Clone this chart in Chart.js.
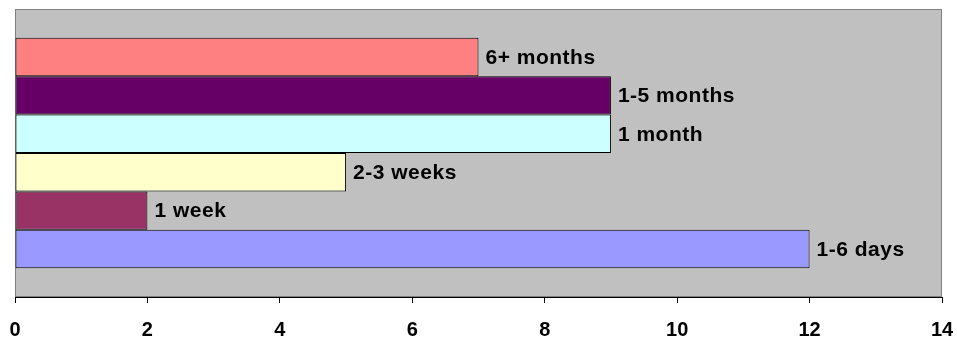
<!DOCTYPE html>
<html>
<head>
<meta charset="utf-8">
<script src="https://cdn.jsdelivr.net/npm/chart.js@4.4.0/dist/chart.umd.min.js"></script>
<style>
  html, body { margin: 0; padding: 0; background: #fff; }
  canvas { display: block; }
</style>
</head>
<body>
<canvas id="durationChart" width="957" height="341"></canvas>
<script>
// duration buckets, top to bottom
const categories = ['6+ months', '1-5 months', '1 month', '2-3 weeks', '1 week', '1-6 days'];
const counts = [7, 9, 9, 5, 2, 12];
const barColors = ['#FF8080', '#660066', '#CCFFFF', '#FFFFCC', '#993366', '#9999FF'];
const xTicks = [0, 2, 4, 6, 8, 10, 12, 14];

const FONT = '"Liberation Sans", Arial, sans-serif';

// grey plot area like the old Excel default
const plotBackground = {
    id: 'plotBackground',
    beforeDraw(chart) {
        const { ctx, chartArea: a } = chart;
        ctx.save();
        ctx.fillStyle = '#C0C0C0';
        ctx.fillRect(a.left, a.top, a.right - a.left, a.bottom - a.top);
        ctx.strokeStyle = '#808080';
        ctx.lineWidth = 1;
        ctx.strokeRect(a.left + 0.5, a.top + 0.5, a.right - a.left - 1, a.bottom - a.top - 1);
        ctx.restore();
    }
};

// series name written just past the end of each bar
const barLabels = {
    id: 'barLabels',
    afterDatasetsDraw(chart) {
        const ctx = chart.ctx;
        ctx.save();
        ctx.font = 'bold 21px ' + FONT;
        ctx.letterSpacing = '0.5px';
        ctx.fillStyle = '#000';
        ctx.textBaseline = 'middle';
        ctx.textAlign = 'left';
        chart.data.datasets.forEach((ds, i) => {
            const bar = chart.getDatasetMeta(i).data[0];
            if (bar) ctx.fillText(ds.label, bar.x + 7, bar.y + 1);
        });
        ctx.restore();
    }
};

const datasets = categories.map((name, i) => ({
    label: name,
    data: [counts[i]],
    backgroundColor: barColors[i],
    borderColor: '#000',
    borderWidth: 1,
    borderSkipped: false
}));

new Chart(document.getElementById('durationChart'), {
    type: 'bar',
    data: { labels: [''], datasets: datasets },
    options: {
        indexAxis: 'y',
        responsive: false,
        animation: false,
        devicePixelRatio: 1,
        categoryPercentage: 0.8,
        barPercentage: 1,
        layout: { padding: { left: 15, right: 15, top: 9, bottom: 1 } },
        plugins: { legend: { display: false }, tooltip: { enabled: false } },
        scales: {
            x: {
                min: 0,
                max: 14,
                afterBuildTicks(scale) { scale.ticks = xTicks.map(v => ({ value: v })); },
                afterFit(scale) {
                    scale.height = 43;
                    scale.paddingLeft = 0;
                    scale.paddingRight = 0;
                },
                grid: { drawOnChartArea: false, drawTicks: true, tickLength: 6, color: '#000' },
                border: { display: true, color: '#000', width: 1 },
                ticks: {
                    color: '#000',
                    padding: 15,
                    maxRotation: 0,
                    font: { family: FONT, size: 20, weight: 'bold' }
                }
            },
            y: {
                display: false
            }
        }
    },
    plugins: [plotBackground, barLabels]
});
</script>
</body>
</html>
